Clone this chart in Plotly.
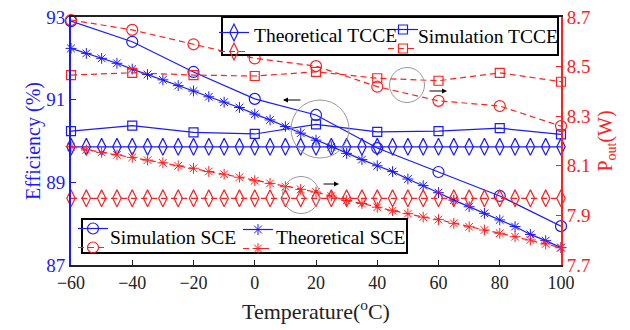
import plotly.graph_objects as go

# ---------------- data ----------------
temps_20 = [-60, -40, -20, 0, 20, 40, 60, 80, 100]
temps_5 = [-60, -55, -50, -45, -40, -35, -30, -25, -20, -15, -10, -5, 0, 5, 10, 15,
           20, 25, 30, 35, 40, 45, 50, 55, 60, 65, 70, 75, 80, 85, 90, 95, 100]

# Efficiency (%) - left axis (blue)
eff_sim_sce = [92.90, 92.40, 91.67, 91.02, 90.63, 89.83, 89.25, 88.67, 87.94]
eff_sim_tcce = [90.24, 90.37, 90.21, 90.17, 90.40, 90.22, 90.24, 90.31, 90.16]
eff_theo_tcce = [89.86, 89.86, 89.86, 89.86, 89.86, 89.86, 89.86, 89.86, 89.86, 89.86, 89.86,
                 89.86, 89.86, 89.86, 89.86, 89.86, 89.86, 89.86, 89.86, 89.86, 89.86, 89.86,
                 89.86, 89.86, 89.86, 89.86, 89.86, 89.86, 89.86, 89.86, 89.86, 89.86, 89.86]
eff_theo_sce = [92.24, 92.12, 92.00, 91.88, 91.74, 91.61, 91.48, 91.34, 91.21, 91.07, 90.94,
                90.81, 90.65, 90.51, 90.35, 90.19, 90.02, 89.86, 89.70, 89.55, 89.40, 89.26,
                89.08, 88.92, 88.75, 88.57, 88.41, 88.25, 88.09, 87.93, 87.74, 87.59, 87.42]

# Pout (W) - right axis (red)
pout_sim_sce = [8.688, 8.648, 8.590, 8.533, 8.502, 8.419, 8.362, 8.341, 8.260]
pout_sim_tcce = [8.466, 8.475, 8.466, 8.462, 8.479, 8.453, 8.443, 8.475, 8.439]
pout_theo_tcce = [7.969, 7.969, 7.969, 7.969, 7.969, 7.969, 7.969, 7.969, 7.969, 7.969, 7.969,
                  7.969, 7.969, 7.969, 7.969, 7.969, 7.969, 7.969, 7.969, 7.969, 7.969, 7.969,
                  7.969, 7.969, 7.969, 7.969, 7.969, 7.969, 7.969, 7.969, 7.969, 7.969, 7.969]
pout_theo_sce = [8.177, 8.164, 8.154, 8.144, 8.134, 8.123, 8.112, 8.100, 8.090, 8.077, 8.066,
                 8.054, 8.040, 8.029, 8.016, 8.005, 7.994, 7.978, 7.960, 7.948, 7.933, 7.919,
                 7.907, 7.893, 7.883, 7.868, 7.854, 7.841, 7.828, 7.814, 7.801, 7.785, 7.770]

x_ticks = [-60, -40, -20, 0, 20, 40, 60, 80, 100]
eff_ticks = [87, 89, 91, 93]
pout_ticks = [7.7, 7.9, 8.1, 8.3, 8.5, 8.7]

# ---------------- style ----------------
BLUE = "#1a1aff"
RED = "#ff2020"
FONT = "Liberation Serif"
W, H = 630, 330
L, R, T, B = 71, 561, 17, 265  # plot area in pixels
DASH = "6px,4px"


def px(xp):
    return (xp - L) / (R - L)


def py(yp):
    return (B - yp) / (B - T)


fig = go.Figure()


def add(x, y, color, symbol, dash, axis, legend, size=10, mlw=1.2):
    fig.add_trace(go.Scatter(
        x=x, y=y, mode="lines+markers", name=" ",
        line=dict(color=color, width=1.2, dash=dash),
        marker=dict(symbol=symbol, size=size, color=color, line=dict(color=color, width=mlw)),
        yaxis=axis, legend=legend, cliponaxis=False,
    ))


# legend 1: Theoretical TCCE
add(temps_5, eff_theo_tcce, BLUE, "diamond-tall-open", "solid", "y", "legend", 12)
add(temps_5, pout_theo_tcce, RED, "diamond-tall-open", DASH, "y2", "legend", 12)
# legend 2: Simulation TCCE
add(temps_20, eff_sim_tcce, BLUE, "square-open", "solid", "y", "legend2", 9)
add(temps_20, pout_sim_tcce, RED, "square-open", DASH, "y2", "legend2", 9)
# legend 3: Simulation SCE
add(temps_20, eff_sim_sce, BLUE, "circle-open", "solid", "y", "legend3", 11)
add(temps_20, pout_sim_sce, RED, "circle-open", DASH, "y2", "legend3", 11)
# legend 4: Theoretical SCE
add(temps_5, eff_theo_sce, BLUE, "asterisk-open", "solid", "y", "legend4", 9, 1.0)
add(temps_5, pout_theo_sce, RED, "asterisk-open", DASH, "y2", "legend4", 9, 1.0)

leg_common = dict(orientation="v", bgcolor="rgba(0,0,0,0)", borderwidth=0,
                  font=dict(family=FONT, size=10), itemwidth=30,
                  xref="paper", yref="paper", xanchor="left", yanchor="top")

fig.update_layout(
    width=W, height=H,
    margin=dict(l=L, r=W - R, t=T, b=H - B, autoexpand=False),
    paper_bgcolor="white", plot_bgcolor="white",
    font=dict(family=FONT, size=18, color="#222"),
    legend=dict(**leg_common, x=px(236 - 22), y=py(18)),
    legend2=dict(**leg_common, x=px(405 - 22), y=py(15)),
    legend3=dict(**leg_common, x=px(95 - 22), y=py(214)),
    legend4=dict(**leg_common, x=px(260 - 22), y=py(215)),
    xaxis=dict(range=[-60, 100], tickvals=x_ticks, ticks="inside", ticklen=5,
               tickcolor="#222", showline=True, linecolor="#222", linewidth=2, mirror=True,
               showgrid=False, zeroline=False, tickfont=dict(size=18, color="#222"),
               title=dict(text="Temperature(<sup>o</sup>C)", font=dict(size=22, color="#222"),
                          standoff=12)),
    yaxis=dict(range=[87, 93], tickvals=eff_ticks, ticks="inside", ticklen=5,
               tickcolor=BLUE, showline=True, linecolor=BLUE, linewidth=2,
               showgrid=False, zeroline=False, tickfont=dict(size=19, color=BLUE),
               title=dict(text="Efficiency (%)", font=dict(size=20, color=BLUE), standoff=0)),
    yaxis2=dict(range=[7.7, 8.7], tickvals=pout_ticks, ticktext=[f"{v:.1f}" for v in pout_ticks],
                overlaying="y", side="right", ticks="inside", ticklen=5,
                tickcolor=RED, showline=True, linecolor=RED, linewidth=2,
                showgrid=False, zeroline=False, tickfont=dict(size=19, color=RED),
                title=dict(text="P<sub>out</sub>(W)", font=dict(size=20, color=RED), standoff=8)),
)

# legend boxes
fig.add_shape(type="rect", xref="paper", yref="paper", x0=px(222), x1=px(558), y0=py(55), y1=py(17),
              line=dict(color="black", width=2), fillcolor="white", layer="above")
fig.add_shape(type="rect", xref="paper", yref="paper", x0=px(82), x1=px(407), y0=py(253), y1=py(219),
              line=dict(color="black", width=2), fillcolor="white", layer="above")

# gray circles
for cx, cy, r in [(320, 129, 29), (301, 195, 18.5), (407, 85, 17.5)]:
    fig.add_shape(type="circle", xref="paper", yref="paper",
                  x0=px(cx - r), x1=px(cx + r), y0=py(cy + r), y1=py(cy - r),
                  line=dict(color="#999", width=1), layer="above")

# arrows
for hx, hy, ax in [(283, 100, 19), (339, 184, -17), (447, 91, -19)]:
    fig.add_annotation(xref="paper", yref="paper", x=px(hx), y=py(hy), ax=ax, ay=0,
                       showarrow=True, arrowhead=2, arrowsize=1, arrowwidth=1, arrowcolor="black",
                       text="")

# legend labels
for txt, xp, yp in [("Theoretical TCCE", 252, 35), ("Simulation TCCE", 416, 36),
                    ("Simulation SCE", 108, 237), ("Theoretical SCE", 274, 237)]:
    fig.add_annotation(xref="paper", yref="paper", x=px(xp), y=py(yp), text=txt,
                       showarrow=False, xanchor="left", yanchor="middle",
                       font=dict(family=FONT, size=19.5, color="black"))

fig.write_html("out.html")
